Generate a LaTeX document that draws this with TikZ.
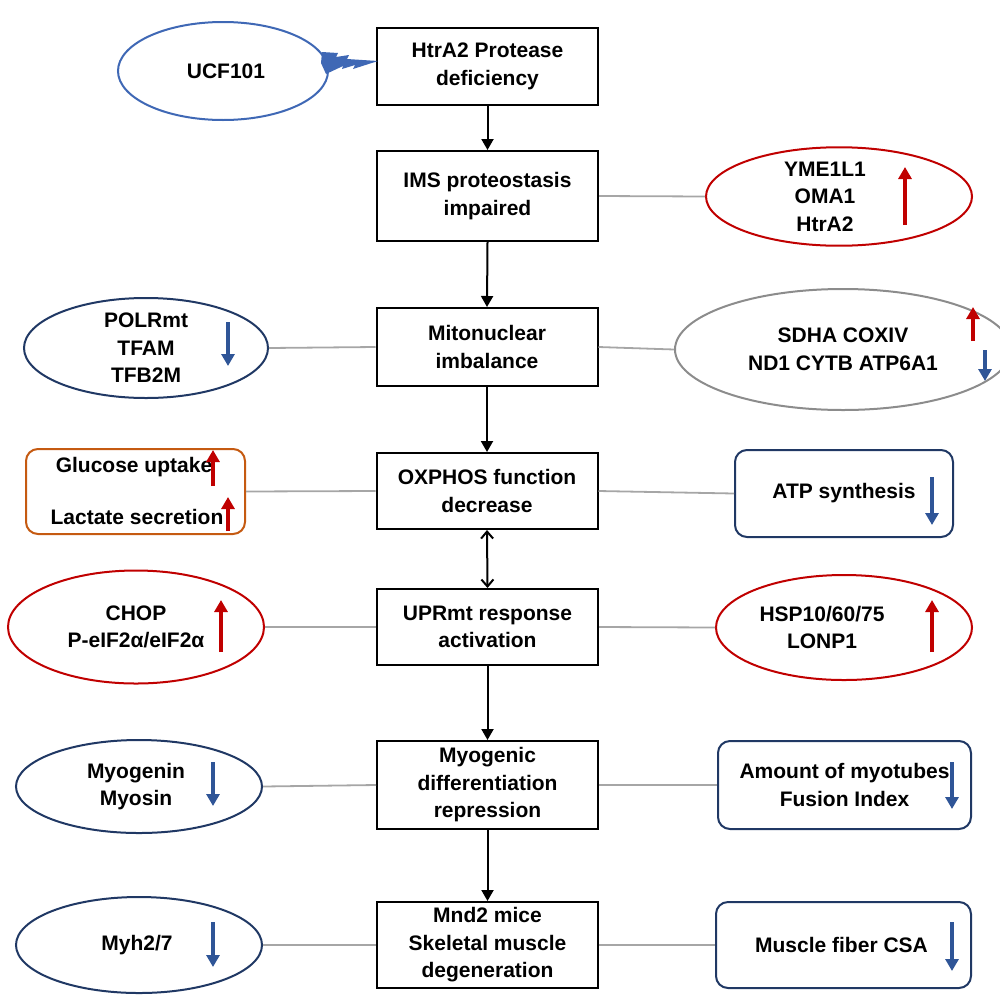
\documentclass[tikz,border=0pt]{standalone}
\usepackage{fontspec}
\setmainfont{Liberation Sans}
\usetikzlibrary{shapes.geometric,arrows.meta}
\definecolor{cred}{HTML}{C00000}
\definecolor{cblue}{HTML}{2F5597}
\definecolor{cnavy}{HTML}{203864}
\definecolor{clblue}{HTML}{3F68B5}
\definecolor{cgray}{HTML}{8C8C8C}
\definecolor{corange}{HTML}{C55A11}
\definecolor{clink}{HTML}{A6A6A6}
\tikzset{
  txt/.style={font=\fontsize{21}{27.5}\selectfont\bfseries, align=center, text=black},
  mainbox/.style={txt, draw=black, line width=2pt, minimum width=221pt, inner sep=0pt},
  oval/.style={txt, ellipse, line width=2pt, inner sep=0pt},
  rbox/.style={txt, rounded corners=12pt, line width=2pt, inner sep=0pt},
  flow/.style={-{Triangle[length=11pt,width=12pt]}, line width=2pt, black},
  flow2/.style={{Straight Barb[length=7pt,width=12pt]}-{Straight Barb[length=7pt,width=12pt]}, line width=2pt, black},
  link/.style={draw=clink, line width=1.8pt},
  uparr/.style={-{Triangle[length=12pt,width=13pt]}, line width=4.5pt, cred},
  dnarr/.style={-{Triangle[length=12pt,width=13pt]}, line width=4.5pt, cblue},
}
\begin{document}
\begin{tikzpicture}[x=1pt,y=-1pt]
\useasboundingbox (0,0) rectangle (1000,996);
% main column
\node[mainbox, minimum height=77pt] (m1) at (487.5,66.5) {HtrA2 Protease\\deficiency};
\node[mainbox, minimum height=90pt] (m2) at (487.5,196) {IMS proteostasis\\impaired};
\node[mainbox, minimum height=78pt] (m3) at (487,347) {Mitonuclear\\imbalance};
\node[mainbox, minimum height=76pt] (m4) at (487,491) {OXPHOS function\\decrease};
\node[mainbox, minimum height=76pt] (m5) at (487.5,627) {UPRmt response\\activation};
\node[mainbox, minimum height=88pt] (m6) at (487.5,785) {Myogenic\\differentiation\\repression};
\node[mainbox, minimum height=86pt] (m7) at (487.5,945) {Mnd2 mice\\Skeletal muscle\\degeneration};
% left side
\node[oval, draw=clblue, minimum width=210pt, minimum height=98pt] (l1) at (223,71) {\hspace*{6pt}UCF101};
\node[oval, draw=cnavy, minimum width=244pt, minimum height=100pt] (l3) at (146,348) {POLRmt\\TFAM\\TFB2M};
\node[rbox, draw=corange, minimum width=219pt, minimum height=85pt] (l4) at (135.5,491.5) {};
\node[txt] (l4a) at (134,467) {Glucose uptake};
\node[txt] (l4b) at (137,517) {Lactate secretion};
\node[oval, draw=cred, minimum width=256pt, minimum height=113pt] (l5) at (136,627) {CHOP\\P-eIF2α/eIF2α};
\node[oval, draw=cnavy, minimum width=246pt, minimum height=93pt] (l6) at (139,786.5) {\hspace*{-6pt}Myogenin\\\hspace*{-6pt}Myosin};
\node[oval, draw=cnavy, minimum width=246pt, minimum height=96pt] (l7) at (139,945) {\hspace*{-4pt}Myh2/7};
% right side
\node[oval, draw=cred, minimum width=266pt, minimum height=97pt] (r2) at (839,196.5) {\hspace*{-28pt}YME1L1\\\hspace*{-28pt}OMA1\\\hspace*{-28pt}HtrA2};
\node[oval, draw=cgray, minimum width=336pt, minimum height=121pt] (r3) at (843,349.5) {SDHA COXIV\\ND1 CYTB ATP6A1};
\node[rbox, draw=cnavy, minimum width=218pt, minimum height=87pt] (r4) at (844,493.5) {ATP synthesis};
\node[oval, draw=cred, minimum width=256pt, minimum height=105pt] (r5) at (844,627.5) {\hspace*{-44pt}HSP10/60/75\\\hspace*{-44pt}LONP1};
\node[rbox, draw=cnavy, minimum width=253pt, minimum height=88pt] (r6) at (844.5,785) {Amount of myotubes\\Fusion Index};
\node[rbox, draw=cnavy, minimum width=255pt, minimum height=86pt] (r7) at (843.5,945) {\hspace*{-4pt}Muscle fiber CSA};
% flow arrows
\draw[flow] (m1.south) -- (m2.north);
\draw[flow] (m2.south) -- (m3.north);
\draw[flow] (m3.south) -- (m4.north);
\draw[flow2] (m4.south) -- (m5.north);
\draw[flow] (m5.south) -- (m6.north);
\draw[flow] (m6.south) -- (m7.north);
% links
\draw[link] (m2.east) -- (r2.west);
\draw[link] (m3.west) -- (l3.east);
\draw[link] (m3.east) -- (r3.west);
\draw[link] (m4.west) -- (l4.east);
\draw[link] (m4.east) -- (r4.west);
\draw[link] (m5.west) -- (l5.east);
\draw[link] (m5.east) -- (r5.west);
\draw[link] (m6.west) -- (l6.east);
\draw[link] (m6.east) -- (r6.west);
\draw[link] (m7.west) -- (l7.east);
\draw[link] (m7.east) -- (r7.west);
% lightning bolt
\fill[clblue] (322,52) -- (338,53) -- (336,57) -- (349,55) -- (347,59) -- (378,61)
  -- (353,69) -- (355,65) -- (342,69) -- (343,66) -- (326,74) -- (321,63) -- cycle;
% up/down arrows
\draw[uparr] (905,225) -- (905,167);
\draw[dnarr] (228,322) -- (228,366);
\draw[uparr] (973,341) -- (973,307);
\draw[dnarr] (985,350) -- (985,381);
\draw[uparr] (213,486) -- (213,450);
\draw[uparr] (228,531) -- (228,497);
\draw[dnarr] (932,477) -- (932,525);
\draw[uparr] (221,652) -- (221,600);
\draw[uparr] (932,652) -- (932,600);
\draw[dnarr] (213,762) -- (213,806);
\draw[dnarr] (952,762) -- (952,809);
\draw[dnarr] (213,922) -- (213,967);
\draw[dnarr] (952,922) -- (952,971);
\end{tikzpicture}
\end{document}
